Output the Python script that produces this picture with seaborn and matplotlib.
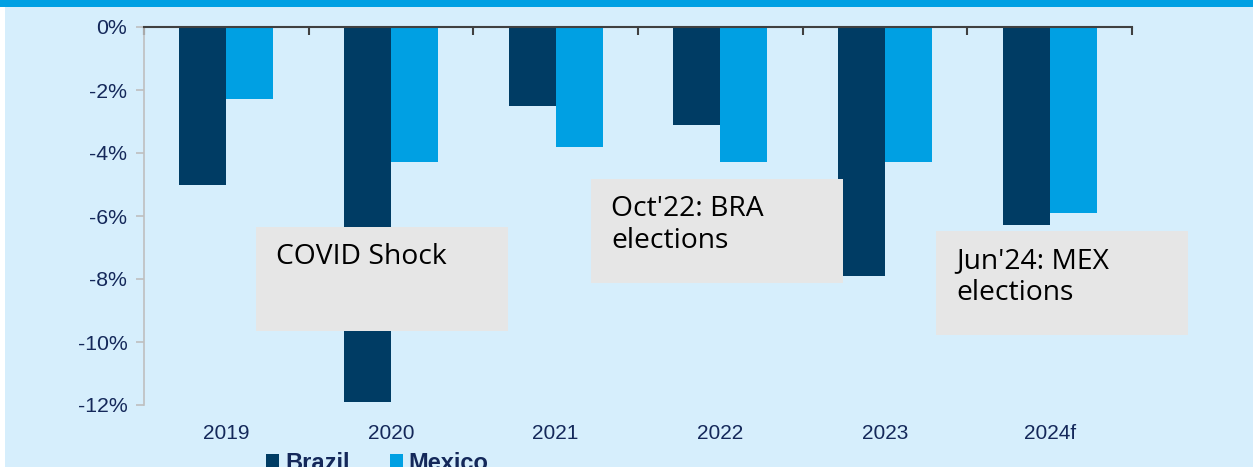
import matplotlib
matplotlib.use("Agg")
import matplotlib.pyplot as plt
import seaborn as sns
import pandas as pd
from matplotlib.patches import Rectangle
from matplotlib.ticker import FuncFormatter

years = ["2019", "2020", "2021", "2022", "2023", "2024f"]
brazil = [-5.0, -11.9, -2.5, -3.1, -7.9, -6.3]
mexico = [-2.3, -4.3, -3.8, -4.3, -4.3, -5.9]
series_names = ["Brazil", "Mexico"]
yticks = [0, -2, -4, -6, -8, -10, -12]
notes = ["COVID Shock", "Oct'22: BRA\nelections", "Jun'24: MEX\nelections"]

df = pd.DataFrame({
    "year": years * 2,
    "value": brazil + mexico,
    "country": [series_names[0]] * len(years) + [series_names[1]] * len(years),
})

sns.set_theme(style="white")
plt.rcParams["font.family"] = ["Liberation Sans", "DejaVu Sans"]

W, H = 1257, 467
fig = plt.figure(figsize=(W / 100, H / 100), dpi=100, facecolor="white")

bg = "#D6EEFC"
fig.patches.append(Rectangle((5 / W, 0), (1253 - 5) / W, 1, transform=fig.transFigure,
                             facecolor=bg, edgecolor="none", zorder=0))
fig.patches.append(Rectangle((0, 1 - 7 / H), 1253 / W, 7 / H, transform=fig.transFigure,
                             facecolor="#00A0E3", edgecolor="none", zorder=0))

ax = fig.add_axes([144 / W, 1 - 405 / H, (1132 - 144) / W, (405 - 27) / H])
ax.set_zorder(2)
ax.set_facecolor("none")

palette = {"Brazil": "#003C64", "Mexico": "#00A0E3"}
sns.barplot(data=df, x="year", y="value", hue="country", palette=palette,
            width=0.57, gap=0, ax=ax, saturation=1, legend=True,
            edgecolor="none", linewidth=0)

ax.set_xlim(-0.5, 5.5)
ax.set_ylim(-12, 0)
ax.set_yticks(yticks)
ax.yaxis.set_major_formatter(FuncFormatter(lambda v, p: f"{int(round(v))}%"))
ax.set_xlabel("")
ax.set_ylabel("")

text_col = "#14285A"
for s in ["right", "bottom"]:
    ax.spines[s].set_visible(False)
ax.spines["left"].set_color("#BFBFBF")
ax.spines["left"].set_linewidth(1.2)
ax.spines["top"].set_color("#404040")
ax.spines["top"].set_linewidth(1.5)

ax.tick_params(axis="y", left=True, length=6, width=1.2, color="#BFBFBF",
               labelsize=15.3, labelcolor=text_col, pad=6)
ax.tick_params(axis="x", bottom=False, labelsize=15, labelcolor=text_col, pad=8)

top = ax.secondary_xaxis("top")
top.set_xticks([i - 0.5 for i in range(len(years) + 1)])
top.tick_params(axis="x", direction="in", length=6, width=1.5, color="#404040",
                labeltop=False)
top.spines["top"].set_visible(False)

leg = ax.legend(loc="center left", bbox_to_anchor=(266 / W, 1 - 463 / H),
                bbox_transform=fig.transFigure, ncol=2, frameon=False,
                handlelength=0.55, handleheight=0.6, handletextpad=0.25,
                columnspacing=1.7, borderaxespad=0, borderpad=0,
                prop={"weight": "bold", "size": 17})
for t in leg.get_texts():
    t.set_color(text_col)

# annotation boxes (pixel positions)
boxes = [(256, 227), (591, 179), (936, 231)]
bw, bh = 252, 104
for (x0, y0), note in zip(boxes, notes):
    fig.patches.append(Rectangle((x0 / W, 1 - (y0 + bh) / H), bw / W, bh / H,
                                 transform=fig.transFigure, facecolor="#E6E6E6",
                                 edgecolor="none", zorder=5))
    fig.text((x0 + 20) / W, 1 - (y0 + 16) / H, note, ha="left", va="top",
             fontsize=20.3, family=["Open Sans", "DejaVu Sans"], color="black",
             linespacing=1.2, zorder=6)

fig.savefig("out.png", dpi=100, facecolor="white")
